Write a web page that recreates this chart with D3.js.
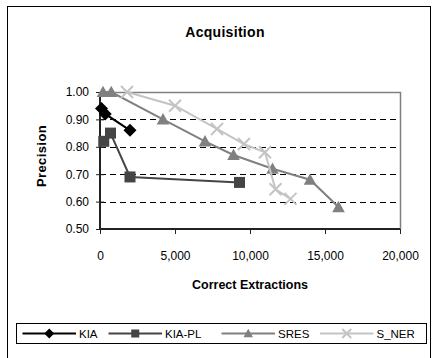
<!DOCTYPE html>
<html><head><meta charset="utf-8">
<script src="https://cdn.jsdelivr.net/npm/d3@7/dist/d3.min.js"></script>
<style>
body{margin:0;background:#fff;}
text{font-family:"Liberation Sans",Arial,sans-serif;fill:#000;}
</style></head>
<body><svg id="c" width="435" height="358"></svg>
<script>
const seriesNames = ["KIA","KIA-PL","SRES","S_NER"];
const kiaX = [100, 350, 2000];
const kiaY = [0.94, 0.92, 0.86];
const kiaplX = [250, 700, 2000, 9300];
const kiaplY = [0.82, 0.85, 0.69, 0.67];
const sresX = [200, 750, 4200, 7000, 8900, 11500, 14000, 15900];
const sresY = [1.0, 1.0, 0.90, 0.82, 0.77, 0.72, 0.68, 0.58];
const snerX = [1800, 5000, 7800, 9600, 11000, 11700, 12700];
const snerY = [1.0, 0.95, 0.865, 0.81, 0.78, 0.645, 0.61];
const xTicks = [0, 5000, 10000, 15000, 20000];
const yTicks = [0.5, 0.6, 0.7, 0.8, 0.9, 1.0];

const styles = [
  {color:"#000000", marker:"diamond"},
  {color:"#454545", marker:"square"},
  {color:"#808080", marker:"triangle"},
  {color:"#c4c4c4", marker:"x"}
];
const series = [
  {name:seriesNames[0], xs:kiaX, ys:kiaY},
  {name:seriesNames[1], xs:kiaplX, ys:kiaplY},
  {name:seriesNames[2], xs:sresX, ys:sresY},
  {name:seriesNames[3], xs:snerX, ys:snerY}
];

const svg = d3.select("#c");
// outer frame
svg.append("rect").attr("x",7.5).attr("y",6.5).attr("width",423).attr("height",360)
  .attr("fill","none").attr("stroke","#000").attr("stroke-width",1);

const L=100, R=400, T=92, B=229;
const x = d3.scaleLinear().domain([0,20000]).range([L,R]);
const y = d3.scaleLinear().domain([0.5,1.0]).range([B,T]);

// gridlines
svg.append("g").selectAll("line").data(yTicks.filter(v=>v>0.5 && v<1.0)).join("line")
  .attr("x1",L).attr("x2",R).attr("y1",d=>Math.round(y(d))+0.5).attr("y2",d=>Math.round(y(d))+0.5)
  .attr("stroke","#000").attr("stroke-width",1).attr("stroke-dasharray","6,4");
// plot border top/right gray
svg.append("path").attr("d",`M${L},${T+0.5}H${R+0.5}V${B}`).attr("fill","none")
  .attr("stroke","#808080").attr("stroke-width",1.5);

// axes
const xAxis = d3.axisBottom(x).tickValues(xTicks).tickSize(5).tickPadding(17)
  .tickFormat(d3.format(","));
const gx = svg.append("g").attr("transform",`translate(0,${B})`).call(xAxis);
gx.select(".domain").attr("stroke","#222").attr("stroke-width",2).attr("d",`M${L},0H${R}`);
gx.selectAll(".tick line").attr("stroke","#222");
gx.selectAll("text").style("font-size","12px").attr("fill","#000");

const yAxis = d3.axisLeft(y).tickValues(yTicks).tickSize(4).tickPadding(7)
  .tickFormat(d3.format(".2f"));
const gy = svg.append("g").attr("transform",`translate(${L},0)`).call(yAxis);
gy.select(".domain").attr("stroke","#222").attr("stroke-width",2).attr("d",`M0,${T}V${B}`);
gy.selectAll(".tick line").attr("stroke","#222").attr("x1",4);
gy.selectAll("text").style("font-size","12px").attr("fill","#000");

// titles
svg.append("text").attr("x",225).attr("y",37).attr("text-anchor","middle")
  .style("font-size","14px").style("font-weight","bold").style("letter-spacing","0.3px").text("Acquisition");
svg.append("text").attr("x",250).attr("y",289).attr("text-anchor","middle")
  .style("font-size","12.5px").style("font-weight","bold").text("Correct Extractions");
svg.append("text").attr("transform","translate(46,156) rotate(-90)").attr("text-anchor","middle")
  .style("font-size","13px").style("font-weight","bold").style("letter-spacing","0.4px").text("Precision");

function drawMarker(g, type, cx, cy, color, s){
  if(type==="diamond"){
    g.append("path").attr("d",`M${cx},${cy-s}L${cx+s},${cy}L${cx},${cy+s}L${cx-s},${cy}Z`).attr("fill",color);
  } else if(type==="square"){
    g.append("rect").attr("x",cx-s).attr("y",cy-s).attr("width",2*s).attr("height",2*s).attr("fill",color);
  } else if(type==="triangle"){
    g.append("path").attr("d",`M${cx},${cy-s*1.05}L${cx+s*1.05},${cy+s*0.85}L${cx-s*1.05},${cy+s*0.85}Z`).attr("fill",color);
  } else {
    g.append("path").attr("d",`M${cx-s},${cy-s}L${cx+s},${cy+s}M${cx-s},${cy+s}L${cx+s},${cy-s}`)
      .attr("stroke",color).attr("stroke-width",2).attr("fill","none");
  }
}

const line = d3.line().x(d=>x(d[0])).y(d=>y(d[1]));
const plot = svg.append("g");
series.forEach((s,i)=>{
  const pts = s.xs.map((v,j)=>[v,s.ys[j]]);
  plot.append("path").attr("d",line(pts)).attr("fill","none")
    .attr("stroke",styles[i].color).attr("stroke-width",2);
  const sz = {diamond:6.5, square:5.5, triangle:6, x:6}[styles[i].marker];
  pts.forEach(p=>drawMarker(plot, styles[i].marker, x(p[0]), y(p[1]), styles[i].color, sz));
});

// legend
const lg = svg.append("g");
lg.append("rect").attr("x",16.5).attr("y",323.5).attr("width",410).attr("height",20)
  .attr("fill","#fff").attr("stroke","#000").attr("stroke-width",1);
const legX = [22.5, 108.5, 221.5, 320];
const ly = 333.5;
series.forEach((s,i)=>{
  const x0 = legX[i], x1 = x0+53.5;
  lg.append("line").attr("x1",x0).attr("x2",x1).attr("y1",ly).attr("y2",ly)
    .attr("stroke",styles[i].color).attr("stroke-width",2);
  const sz = {diamond:5, square:4, triangle:4.5, x:4.5}[styles[i].marker];
  drawMarker(lg, styles[i].marker, (x0+x1)/2, ly, styles[i].color, sz);
  lg.append("text").attr("x",x1+3).attr("y",ly+4).style("font-size","11.5px").text(s.name);
});
</script></body></html>
